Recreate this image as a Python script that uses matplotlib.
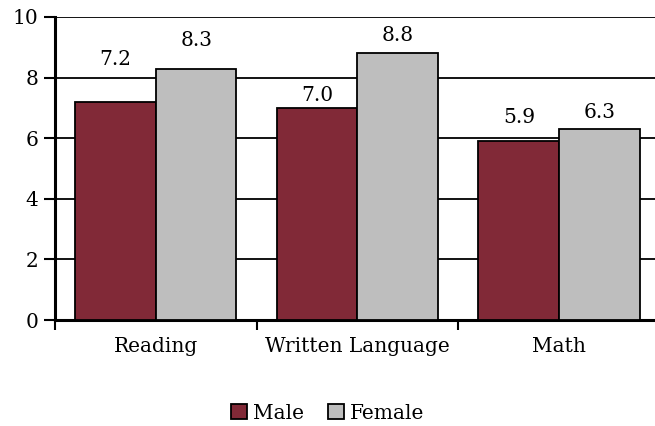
import numpy as np
import matplotlib
matplotlib.use("Agg")
import matplotlib.pyplot as plt

categories = ["Reading", "Written Language", "Math"]
male = [7.2, 7.0, 5.9]
female = [8.3, 8.8, 6.3]

# label paddings (pt) to mimic the odd placement in the original
male_pad = [24, 2, 10]
female_pad = [13, 6, 5]

plt.rcParams["font.family"] = ["DejaVu Serif"]
plt.rcParams["font.size"] = 14.5

fig = plt.figure(figsize=(6.55, 4.26), dpi=100)
ax = fig.add_axes([55 / 655, 1 - 320 / 426, 605 / 655, 303 / 426])

x = np.arange(len(categories))
width = 0.4
b1 = ax.bar(x - width / 2, male, width, color="#812937", edgecolor="black",
            linewidth=1.3, label="Male", zorder=3)
b2 = ax.bar(x + width / 2, female, width, color="#BEBEBE", edgecolor="black",
            linewidth=1.3, label="Female", zorder=3)

for rect, v, p in zip(b1, male, male_pad):
    ax.annotate(f"{v:.1f}", (rect.get_x() + rect.get_width() / 2, v),
                xytext=(0, p), textcoords="offset points", ha="center", va="bottom")
for rect, v, p in zip(b2, female, female_pad):
    ax.annotate(f"{v:.1f}", (rect.get_x() + rect.get_width() / 2, v),
                xytext=(0, p), textcoords="offset points", ha="center", va="bottom")

ax.set_xlim(-0.5, 2.5)
ax.set_ylim(0, 10)
ax.set_yticks(np.arange(0, 11, 2))
ax.yaxis.grid(True, color="black", linewidth=1.3, zorder=0)
ax.set_axisbelow(True)

ax.set_xticks(x)
ax.set_xticklabels(categories)
ax.tick_params(axis="x", which="major", length=0, pad=12)
ax.set_xticks([-0.5, 0.5, 1.5], minor=True)
ax.tick_params(axis="x", which="minor", length=7, width=1.5, direction="out")
ax.tick_params(axis="y", length=8, width=1.5, direction="out", pad=4)

for s in ["top", "right"]:
    ax.spines[s].set_visible(False)
for s in ["left", "bottom"]:
    ax.spines[s].set_linewidth(2.2)

fig.legend(loc="lower center", bbox_to_anchor=(0.5, -0.035), ncols=2, frameon=False,
           handlelength=0.8, handleheight=0.8, handletextpad=0.3, columnspacing=1.2)

fig.savefig("out.png", dpi=100)
